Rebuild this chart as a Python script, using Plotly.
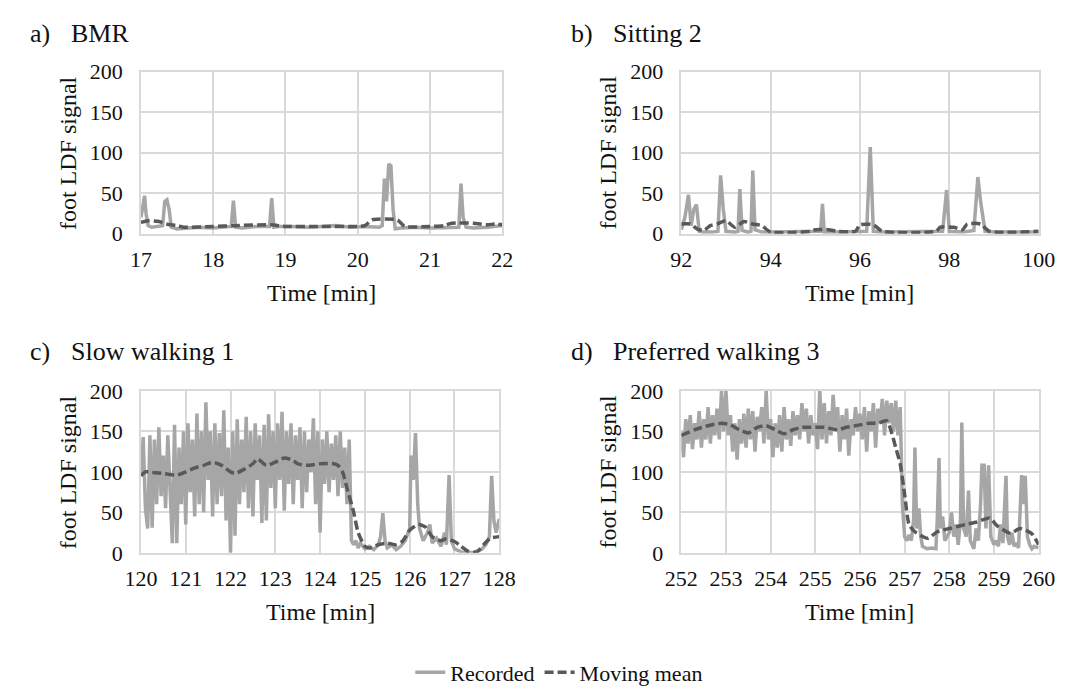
import numpy as np
import plotly.graph_objects as go

# ---------------- data ----------------
# a) BMR
a_t = [17.0, 17.02, 17.05, 17.07, 17.1, 17.15, 17.2, 17.3, 17.33, 17.36, 17.39, 17.42, 17.5, 17.6,
       17.8, 18.0, 18.2, 18.25, 18.28, 18.31, 18.4, 18.6, 18.78, 18.81, 18.84, 18.9, 19.1, 19.3,
       19.5, 19.7, 19.9, 20.1, 20.3, 20.34, 20.37, 20.4, 20.43, 20.46, 20.49, 20.52, 20.6, 20.8,
       21.0, 21.2, 21.4, 21.43, 21.46, 21.5, 21.6, 21.8, 22.0]
a_rec = [20, 30, 47, 25, 10, 8, 9, 10, 40, 42, 30, 8, 6, 7,
         8, 7, 8, 9, 41, 8, 7, 9, 9, 44, 8, 9, 9, 8,
         9, 10, 8, 9, 8, 10, 68, 40, 86, 84, 30, 6, 7, 8,
         7, 8, 8, 62, 20, 8, 7, 8, 10]
a_mt = [17.0, 17.1, 17.25, 17.35, 17.5, 17.6, 18.0, 18.3, 18.8, 19.0, 19.5, 20.0, 20.1, 20.2,
        20.55, 20.65, 21.0, 21.2, 21.3, 21.6, 21.8, 21.9, 22.0]
a_mean = [14, 16, 15, 12, 10, 8, 9, 10, 11, 9, 9, 9, 10, 17,
          17, 9, 9, 10, 13, 13, 11, 12, 11]

# b) Sitting 2
b_t = [92.0, 92.08, 92.16, 92.22, 92.28, 92.34, 92.4, 92.5, 92.7, 92.82, 92.88, 92.94, 93.0, 93.2,
       93.27, 93.31, 93.36, 93.5, 93.56, 93.6, 93.65, 93.8, 94.0, 94.5, 95.0, 95.12, 95.16, 95.2,
       95.5, 96.0, 96.15, 96.23, 96.3, 96.5, 97.0, 97.5, 97.85, 97.94, 98.0, 98.3, 98.55, 98.64,
       98.7, 98.8, 99.0, 99.5, 100.0]
b_rec = [5, 20, 48, 10, 30, 36, 3, 2, 2, 3, 72, 30, 3, 2,
         3, 55, 4, 2, 3, 78, 5, 2, 2, 2, 2, 3, 37, 2,
         2, 2, 3, 107, 3, 2, 2, 2, 3, 54, 3, 2, 4, 70,
         40, 3, 2, 2, 2]
b_mt = [92.0, 92.2, 92.35, 92.5, 92.65, 92.8, 93.0, 93.2, 93.4, 93.6, 93.8, 94.0, 94.9, 95.0,
        95.3, 95.5, 95.9, 96.0, 96.3, 96.5, 97.7, 97.8, 98.1, 98.3, 98.4, 98.7, 98.9, 100.0]
b_mean = [12, 12, 6, 4, 10, 12, 16, 8, 15, 12, 10, 2, 3, 5,
          5, 3, 3, 11, 11, 3, 3, 8, 8, 5, 12, 12, 3, 3]

# c) Slow walking 1
c_t0, c_dt = 120.0, 0.05
c_dense = [95, 143, 55, 30, 145, 31, 140, 60, 155, 70, 120, 55, 145, 80, 12, 158, 12, 130, 60, 150,
           35, 160, 75, 140, 45, 172, 60, 150, 50, 186, 90, 150, 45, 160, 60, 148, 70, 176, 40, 130,
           0, 150, 21, 165, 60, 140, 75, 168, 55, 150, 45, 160, 90, 145, 37, 158, 40, 171, 80, 150,
           55, 160, 90, 174, 52, 150, 85, 160, 60, 145, 90, 155, 55, 150, 75, 140, 100, 166, 60, 150,
           25, 140, 85, 150, 75, 135, 90, 145, 70, 150, 80, 130, 60, 140, 15]
c_tail_t = [124.75, 124.8, 124.85, 124.9, 125.0, 125.1, 125.2, 125.3, 125.35, 125.4, 125.45, 125.5,
            125.6, 125.7, 125.8, 125.9, 126.0, 126.03, 126.08, 126.13, 126.18, 126.22, 126.3, 126.4,
            126.45, 126.5, 126.6, 126.7, 126.78, 126.82, 126.88, 126.93, 127.0, 127.1, 127.2, 127.3,
            127.4, 127.5, 127.6, 127.7, 127.78, 127.83, 127.88, 127.93, 128.0]
c_tail = [10, 15, 6, 12, 5, 8, 4, 10, 20, 49, 15, 6,
          10, 4, 8, 15, 30, 120, 90, 148, 60, 30, 15, 25,
          35, 12, 18, 8, 25, 10, 96, 15, 5, 2, 0, 1,
          0, 2, 4, 10, 20, 95, 40, 25, 42]
c_mt = [120.0, 120.1, 120.3, 120.5, 120.8, 121.0, 121.2, 121.4, 121.6, 121.8, 122.0, 122.1, 122.3,
        122.5, 122.6, 122.8, 123.0, 123.2, 123.4, 123.5, 123.7, 124.0, 124.3, 124.4, 124.5, 124.6,
        124.75, 124.85, 125.0, 125.1, 125.3, 125.5, 125.7, 125.85, 126.0, 126.2, 126.35, 126.5,
        126.7, 126.8, 127.0, 127.15, 127.3, 127.5, 127.65, 127.8, 128.0]
c_mean = [95, 100, 99, 98, 96, 100, 105, 108, 112, 108, 100, 98, 103,
          110, 116, 108, 112, 117, 114, 110, 108, 110, 110, 108, 100, 80,
          50, 25, 8, 6, 10, 12, 10, 15, 28, 35, 32, 20,
          15, 17, 14, 8, 2, 1, 10, 18, 20]

# d) Preferred walking 3
d_t0, d_dt = 252.0, 0.05
d_dense = [150, 118, 165, 135, 170, 128, 160, 140, 175, 130, 165, 140, 180, 135, 170, 145, 178, 140, 200, 150,
           200, 145, 170, 125, 160, 115, 165, 135, 172, 130, 178, 140, 175, 125, 168, 150, 180, 135, 200, 140,
           165, 118, 160, 130, 170, 125, 180, 140, 165, 132, 175, 145, 170, 140, 185, 150, 178, 135, 170, 145,
           160, 128, 200, 140, 185, 135, 175, 145, 195, 150, 180, 125, 170, 140, 178, 120, 165, 145, 180, 150,
           172, 140, 180, 125, 175, 150, 185, 130, 178, 160, 190, 145, 188, 160, 185, 150, 188, 145, 180, 60]
d_tail_t = [257.0, 257.05, 257.1, 257.15, 257.2, 257.23, 257.27, 257.32, 257.36, 257.4, 257.5, 257.6,
            257.7, 257.73, 257.77, 257.8, 257.85, 257.9, 258.0, 258.05, 258.1, 258.15, 258.2, 258.25,
            258.28, 258.32, 258.38, 258.43, 258.47, 258.52, 258.55, 258.6, 258.65, 258.7, 258.73,
            258.78, 258.82, 258.88, 258.93, 259.0, 259.05, 259.1, 259.15, 259.2, 259.27, 259.3,
            259.35, 259.4, 259.45, 259.5, 259.55, 259.62, 259.66, 259.7, 259.75, 259.8, 259.85,
            259.9, 260.0]
d_tail = [20, 15, 22, 15, 40, 130, 30, 55, 20, 8, 5, 6,
          5, 40, 117, 30, 45, 15, 25, 50, 20, 35, 10, 40,
          161, 30, 20, 77, 15, 10, 5, 30, 15, 60, 108,
          108, 30, 108, 20, 10, 15, 8, 35, 12, 95, 20,
          10, 25, 8, 12, 6, 96, 60, 95, 20, 10, 5,
          8, 6]
d_mt = [252.0, 252.3, 252.6, 252.9, 253.1, 253.3, 253.5, 253.7, 253.9, 254.1, 254.3, 254.5, 254.7,
        254.9, 255.2, 255.5, 255.7, 256.0, 256.2, 256.4, 256.6, 256.7, 256.8, 256.9, 257.0, 257.1,
        257.23, 257.52, 257.73, 258.0, 258.37, 258.62, 258.9, 259.08, 259.37, 259.58, 259.84, 260.0]
d_mean = [145, 152, 157, 160, 158, 152, 148, 155, 157, 152, 147, 152, 155,
          155, 155, 152, 155, 158, 160, 160, 163, 150, 130, 110, 72, 35,
          26, 18, 26, 30, 35, 38, 43, 33, 24, 30, 24, 10]

panel_labels = ["a)", "b)", "c)", "d)"]
panel_names = ["BMR", "Sitting 2", "Slow walking 1", "Preferred walking 3"]
y_ticks = [0, 50, 100, 150, 200]

# assemble dense time axes
c_t = [round(c_t0 + c_dt * i, 3) for i in range(len(c_dense))] + c_tail_t
c_rec = c_dense + c_tail
d_t = [round(d_t0 + d_dt * i, 3) for i in range(len(d_dense))] + d_tail_t
d_rec = d_dense + d_tail

# ---------------- figure ----------------
W, H = 1075, 695
REC_COLOR = "#a6a6a6"
MEAN_COLOR = "#595959"
GRID = "#d9d9d9"
FONT = "Liberation Serif, serif"
TXT = "#111111"

panels = [
    dict(t=a_t, rec=a_rec, mt=a_mt, mean=a_mean, xr=[17, 22], dt=1, px=(128, 501), py=(62, 230)),
    dict(t=b_t, rec=b_rec, mt=b_mt, mean=b_mean, xr=[92, 100], dt=2, px=(686, 1055), py=(62, 230)),
    dict(t=c_t, rec=c_rec, mt=c_mt, mean=c_mean, xr=[120, 128], dt=1, px=(128, 498), py=(393, 561)),
    dict(t=d_t, rec=d_rec, mt=d_mt, mean=d_mean, xr=[252, 260], dt=1, px=(686, 1055), py=(393, 561)),
]

fig = go.Figure()
layout = {}
annotations = []
for i, p in enumerate(panels):
    n = "" if i == 0 else str(i + 1)
    fig.add_trace(go.Scatter(x=p["t"], y=p["rec"], mode="lines", name="Recorded",
                             line=dict(color=REC_COLOR, width=3.5), xaxis="x" + n, yaxis="y" + n,
                             showlegend=(i == 0), legendgroup="rec"))
    fig.add_trace(go.Scatter(x=p["mt"], y=p["mean"], mode="lines", name="Moving mean",
                             line=dict(color=MEAN_COLOR, width=3.5, dash="9px,4px", shape="spline", smoothing=0.6),
                             xaxis="x" + n, yaxis="y" + n,
                             showlegend=(i == 0), legendgroup="mean"))
    x0, x1 = p["px"]
    y0, y1 = p["py"]
    layout["xaxis" + n] = dict(
        domain=[x0 / W, x1 / W], range=p["xr"], dtick=p["dt"], tick0=p["xr"][0],
        anchor="y" + n, showgrid=True, gridcolor=GRID, gridwidth=1.5,
        showline=True, linecolor=GRID, linewidth=1.5, mirror=True, zeroline=False,
        ticks="", ticklabelstandoff=5, tickfont=dict(size=22, color=TXT, family=FONT),
        fixedrange=True)
    layout["yaxis" + n] = dict(
        domain=[1 - y1 / H, 1 - y0 / H], range=[0, 200], tickvals=y_ticks,
        anchor="x" + n, showgrid=True, gridcolor=GRID, gridwidth=1.5,
        showline=True, linecolor=GRID, linewidth=1.5, mirror=True, zeroline=False,
        ticks="", ticklabelstandoff=12, tickfont=dict(size=22, color=TXT, family=FONT),
        fixedrange=True)
    # axis titles
    annotations.append(dict(text="Time [min]", xref="paper", yref="paper",
                            x=(x0 + x1) / 2 / W, y=1 - (y1 + 61) / H, showarrow=False,
                            xanchor="center", yanchor="middle",
                            font=dict(size=24, family=FONT, color=TXT)))
    annotations.append(dict(text="foot LDF signal", xref="paper", yref="paper",
                            x=(x0 - 76) / W, y=1 - (y0 + y1) / 2 / H, showarrow=False, textangle=-90,
                            xanchor="center", yanchor="middle",
                            font=dict(size=24, family=FONT, color=TXT)))
    # panel titles
    lx = 11 if i % 2 == 0 else 570
    ty = 22 if i < 2 else 352
    annotations.append(dict(text=panel_labels[i], xref="paper", yref="paper",
                            x=lx / W, y=1 - ty / H, showarrow=False, xanchor="left", yanchor="middle",
                            font=dict(size=26, family=FONT, color=TXT)))
    annotations.append(dict(text=panel_names[i], xref="paper", yref="paper",
                            x=(lx + 43) / W, y=1 - ty / H, showarrow=False, xanchor="left", yanchor="middle",
                            font=dict(size=26, family=FONT, color=TXT)))

fig.update_layout(
    width=W, height=H,
    margin=dict(l=0, r=0, t=0, b=0),
    paper_bgcolor="white", plot_bgcolor="white",
    font=dict(family=FONT, size=22, color=TXT),
    annotations=annotations,
    showlegend=True,
    legend=dict(orientation="h", x=560 / W, xanchor="center", y=1 - 685 / H, yanchor="middle",
                font=dict(size=22, family=FONT, color=TXT),
                bgcolor="rgba(0,0,0,0)", traceorder="normal"),
    **layout,
)

fig.write_html("out.html")
